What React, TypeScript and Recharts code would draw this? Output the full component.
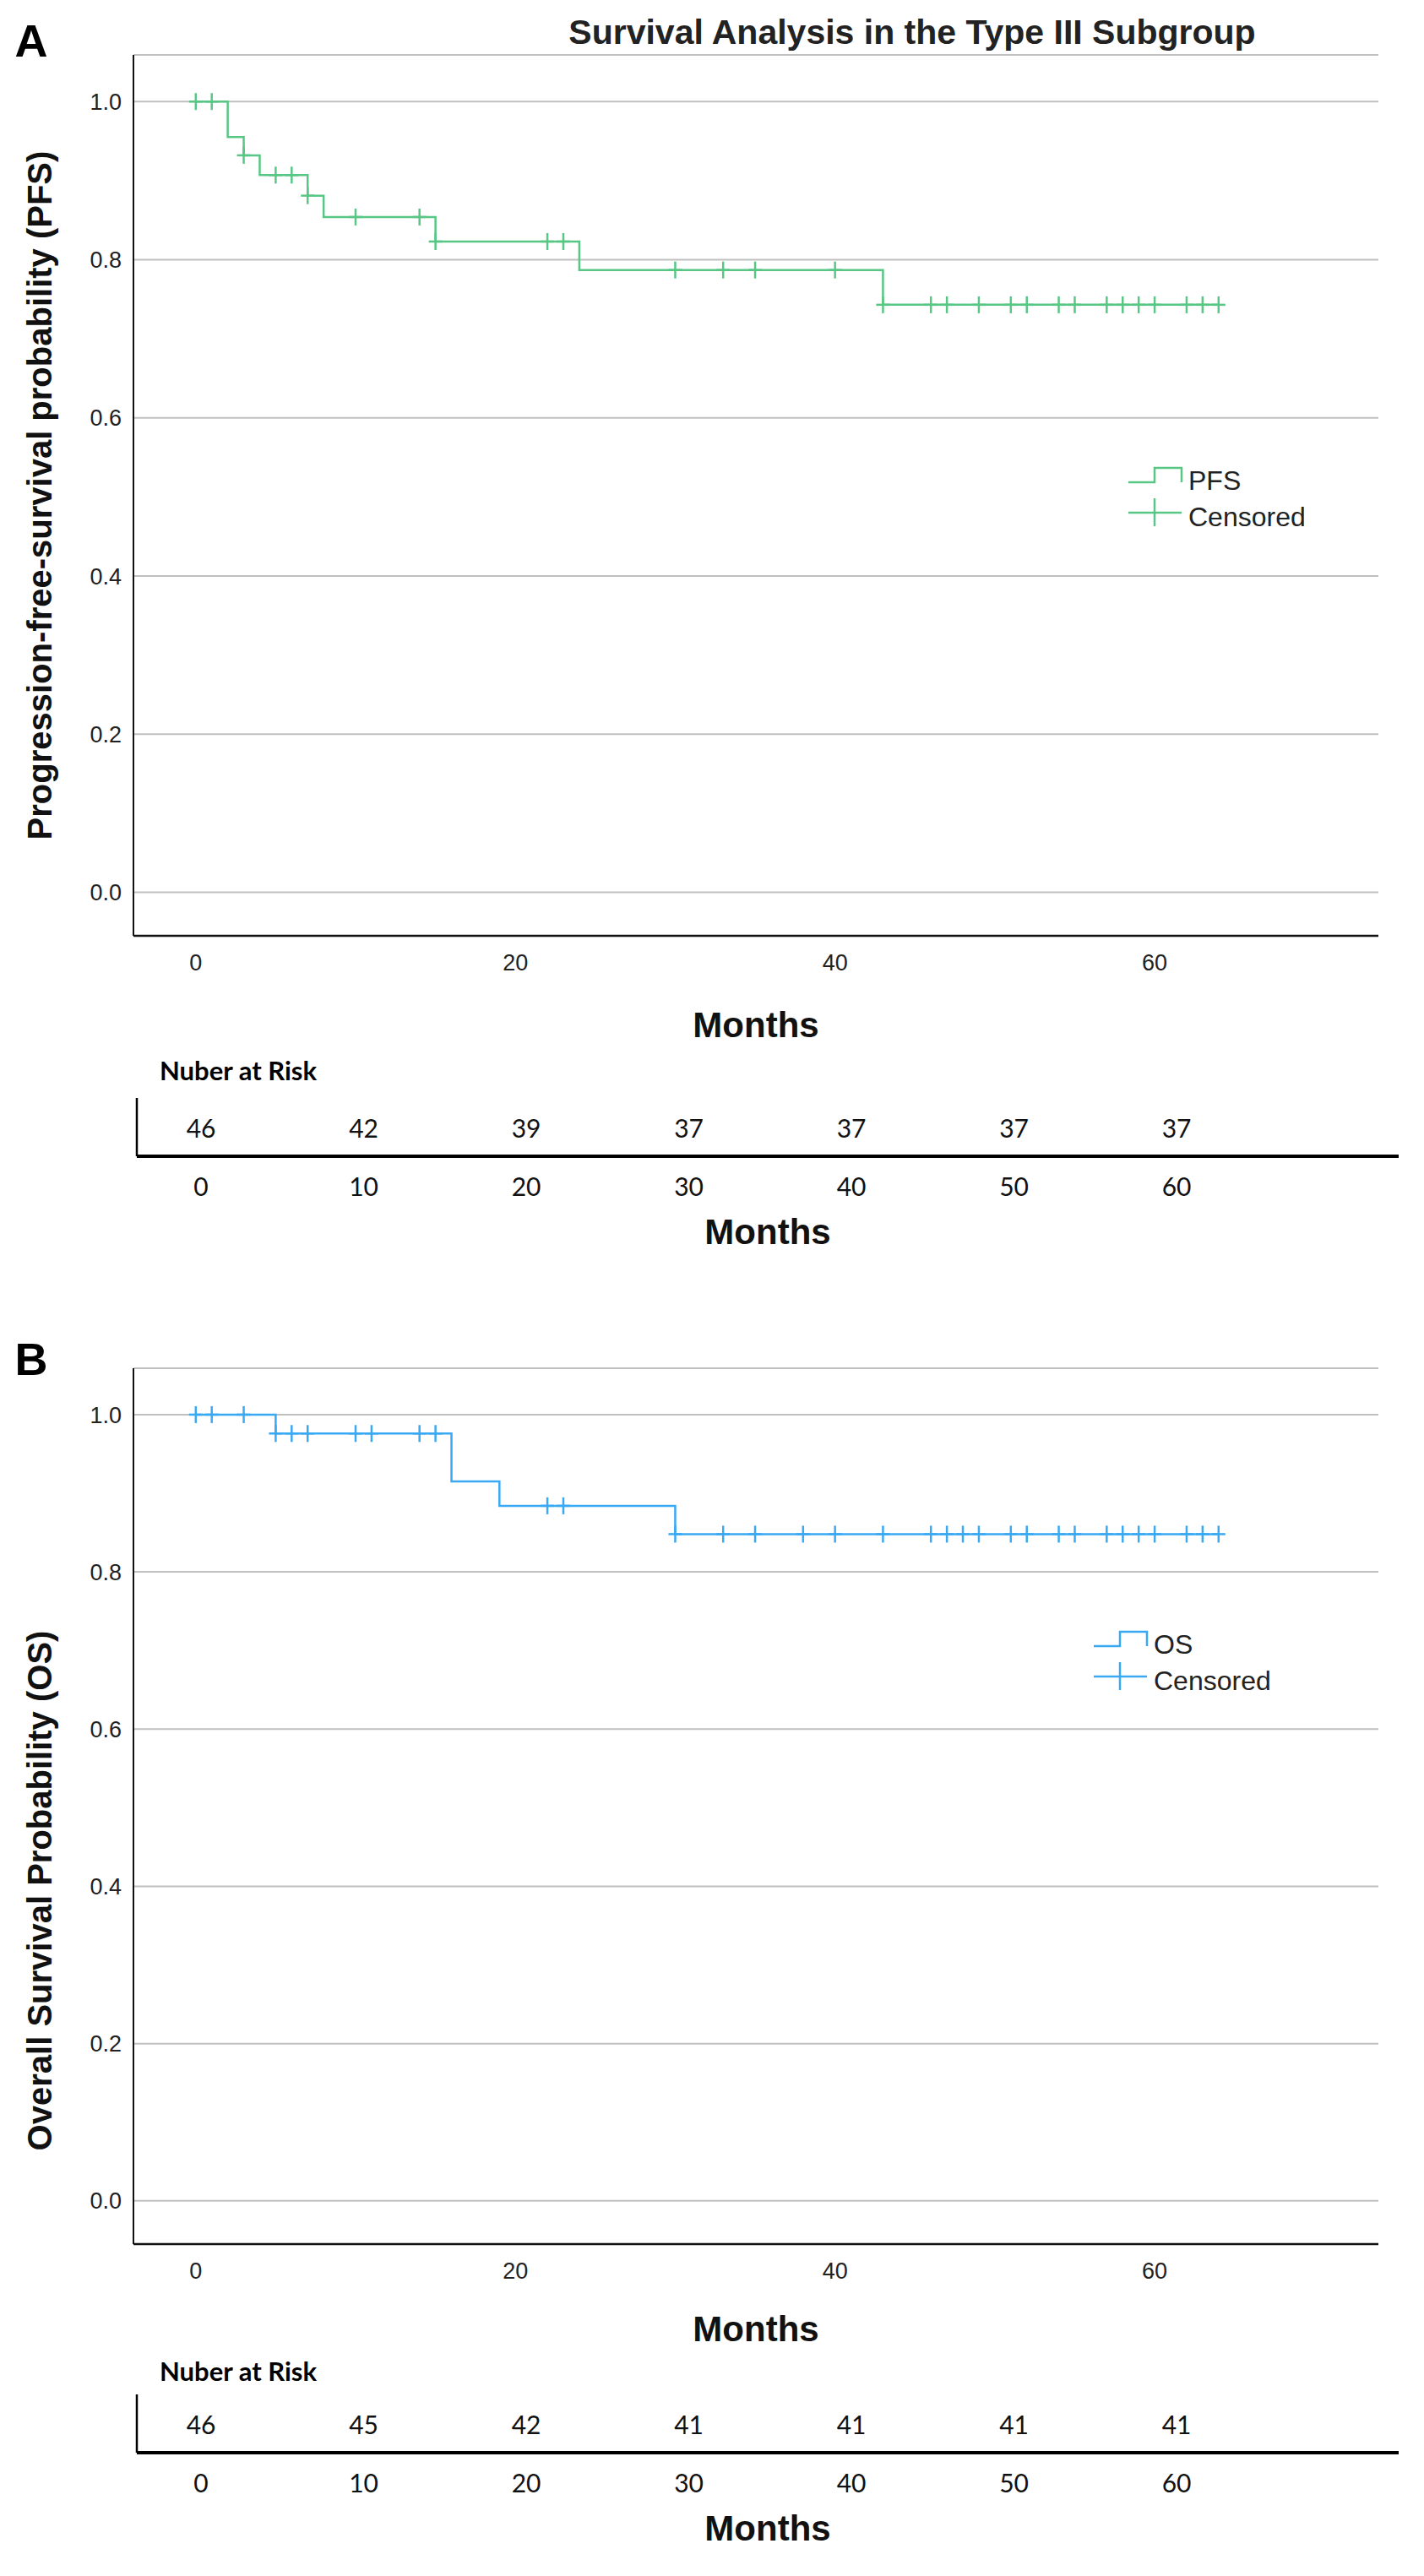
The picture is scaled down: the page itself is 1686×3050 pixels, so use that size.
import React from "react";
import {
  ComposedChart,
  Line,
  Scatter,
  XAxis,
  YAxis,
  CartesianGrid,
  Legend,
  Label,
} from "recharts";

// ---- data ----
const pfsEventMonths = [2, 3, 4, 7, 8, 15, 24, 43];
const pfsLevels = [0.955, 0.932, 0.907, 0.881, 0.854, 0.823, 0.787, 0.743];
const pfsCensoredMonths = [
  0, 1, 3, 5, 6, 7, 10, 14, 15, 22, 23, 30, 33, 35, 40, 43, 46, 47, 49, 51, 52,
  54, 55, 57, 58, 59, 60, 62, 63, 64,
];

const osEventMonths = [5, 16, 19, 30];
const osLevels = [0.976, 0.915, 0.884, 0.848];
const osCensoredMonths = [
  0, 1, 3, 5, 6, 7, 10, 11, 14, 15, 22, 23, 30, 33, 35, 38, 40, 43, 46, 47, 48,
  49, 51, 52, 54, 55, 57, 58, 59, 60, 62, 63, 64,
];

const lastFollowUp = 64;

const plotTicks = [0, 20, 40, 60];
const probTicks = [0, 0.2, 0.4, 0.6, 0.8, 1.0];

const riskMonths = [0, 10, 20, 30, 40, 50, 60];
const pfsAtRisk = [46, 42, 39, 37, 37, 37, 37];
const osAtRisk = [46, 45, 42, 41, 41, 41, 41];

// ---- helpers ----
const GREEN = "#58c785";
const BLUE = "#3aa9f4";
const ARIAL = "'Liberation Sans', Arial, sans-serif";
const CALIBRI = "Lato, 'Liberation Sans', sans-serif";

function stepSeries(events: number[], levels: number[], end: number) {
  const pts = [{ t: 0, s: 1 }];
  events.forEach((t, i) => pts.push({ t, s: levels[i] }));
  pts.push({ t: end, s: levels[levels.length - 1] });
  return pts;
}

function survivalAt(t: number, events: number[], levels: number[]) {
  let s = 1;
  events.forEach((e, i) => {
    if (e <= t) s = levels[i];
  });
  return s;
}

const CensorMark = ({ cx, cy, color }: any) => (
  <g stroke={color} strokeWidth={2.5}>
    <line x1={cx} y1={cy - 10} x2={cx} y2={cy + 10} />
    <line x1={cx - 8} y1={cy} x2={cx + 8} y2={cy} />
  </g>
);

const MonthsTitle = ({ viewBox, dy }: any) => (
  <text
    x={viewBox.x + viewBox.width / 2}
    y={viewBox.y + dy}
    textAnchor="middle"
    fontFamily={ARIAL}
    fontWeight="bold"
    fontSize={42}
    fill="#111"
  >
    Months
  </text>
);

const YTitle = ({ viewBox, text, shift }: any) => {
  const cx = 47;
  const cy = viewBox.y + viewBox.height / 2 + shift;
  return (
    <text
      x={cx}
      y={cy}
      transform={`rotate(-90 ${cx} ${cy})`}
      textAnchor="middle"
      dominantBaseline="central"
      fontFamily={ARIAL}
      fontWeight="bold"
      fontSize={40}
      fill="#111"
    >
      {text}
    </text>
  );
};

const KmLegend = ({ color, name }: any) => (
  <svg width={240} height={90} style={{ display: "block" }}>
    <path d="M6,26 H37 V9 H69 V26" fill="none" stroke={color} strokeWidth={2.5} />
    <text x={77} y={35} fontFamily={ARIAL} fontSize={32} fill="#222">
      {name}
    </text>
    <line x1={6} y1={62} x2={69} y2={62} stroke={color} strokeWidth={2.5} />
    <line x1={37} y1={45} x2={37} y2={78} stroke={color} strokeWidth={2.5} />
    <text x={77} y={78} fontFamily={ARIAL} fontSize={32} fill="#222">
      Censored
    </text>
  </svg>
);

interface KmPanelProps {
  top: number;
  axisHeight: number;
  monthsDy: number;
  events: number[];
  levels: number[];
  censored: number[];
  color: string;
  name: string;
  yTitle: string;
  yTitleShift: number;
  legendLeft: number;
  legendTop: number;
}

const KmPanel = ({
  top,
  axisHeight,
  monthsDy,
  events,
  levels,
  censored,
  color,
  name,
  yTitle,
  yTitleShift,
  legendLeft,
  legendTop,
}: KmPanelProps) => {
  const curve = stepSeries(events, levels, lastFollowUp);
  const marks = censored.map((t) => ({ t, s: survivalAt(t, events, levels) }));
  const tickStyle = { fontFamily: ARIAL, fontSize: 27, fill: "#222" };

  return (
    <div style={{ position: "absolute", left: 0, top }}>
      <ComposedChart
        width={1686}
        height={1250}
        margin={{ top: 65, right: 54, bottom: 0, left: 0 }}
      >
        <CartesianGrid vertical={false} stroke="#c0c0c0" strokeWidth={2} />
        <XAxis
          type="number"
          dataKey="t"
          domain={[-3.9, 74]}
          ticks={plotTicks}
          allowDataOverflow
          height={axisHeight}
          tickLine={false}
          tickMargin={16}
          axisLine={{ stroke: "#111", strokeWidth: 2.5 }}
          tick={tickStyle}
        >
          <Label content={<MonthsTitle dy={monthsDy} />} />
        </XAxis>
        <YAxis
          type="number"
          dataKey="s"
          domain={[-0.055, 1.059]}
          ticks={probTicks}
          allowDataOverflow
          width={158}
          tickLine={false}
          tickMargin={8}
          axisLine={{ stroke: "#111", strokeWidth: 2 }}
          tick={tickStyle}
          tickFormatter={(v: number) => v.toFixed(1)}
        >
          <Label content={<YTitle text={yTitle} shift={yTitleShift} />} />
        </YAxis>
        <Line
          data={curve}
          dataKey="s"
          type="stepAfter"
          stroke={color}
          strokeWidth={2.5}
          dot={false}
          activeDot={false}
          isAnimationActive={false}
        />
        <Scatter
          data={marks}
          dataKey="s"
          isAnimationActive={false}
          shape={(p: any) => <CensorMark cx={p.cx} cy={p.cy} color={color} />}
        />
        <Legend
          layout="vertical"
          align="center"
          verticalAlign="middle"
          wrapperStyle={{ left: legendLeft, top: legendTop, width: 240, height: 90 }}
          content={() => <KmLegend color={color} name={name} />}
        />
      </ComposedChart>
    </div>
  );
};

const RiskCell = ({ cx, cy, payload }: any) => (
  <text
    x={cx}
    y={cy}
    textAnchor="middle"
    dominantBaseline="central"
    fontFamily={CALIBRI}
    fontSize={30}
    fill="#111"
  >
    {payload.n}
  </text>
);

const RiskTable = ({ top, counts }: { top: number; counts: number[] }) => {
  const rows = riskMonths.map((t, i) => ({ t, row: 0.5, n: counts[i] }));
  return (
    <div style={{ position: "absolute", left: 0, top }}>
      <ComposedChart
        width={1686}
        height={260}
        margin={{ top: 70, right: 30, bottom: 0, left: 160 }}
      >
        <XAxis
          type="number"
          dataKey="t"
          domain={[-3.95, 73.66]}
          ticks={riskMonths}
          allowDataOverflow
          height={121}
          tickLine={false}
          tickSize={0}
          tickMargin={26}
          axisLine={{ stroke: "#000", strokeWidth: 4 }}
          tick={{ fontFamily: CALIBRI, fontSize: 30, fill: "#111" }}
        >
          <Label content={<MonthsTitle dy={104} />} />
        </XAxis>
        <YAxis
          type="number"
          dataKey="row"
          domain={[0, 1]}
          width={2}
          tick={false}
          tickLine={false}
          axisLine={{ stroke: "#000", strokeWidth: 2.5 }}
        />
        <Scatter
          data={rows}
          dataKey="row"
          isAnimationActive={false}
          shape={(p: any) => <RiskCell {...p} />}
        />
      </ComposedChart>
    </div>
  );
};

const Overlay = () => (
  <svg
    width={1686}
    height={3050}
    style={{ position: "absolute", left: 0, top: 0, pointerEvents: "none" }}
  >
    <text x={37} y={67} textAnchor="middle" fontFamily={ARIAL} fontWeight="bold" fontSize={54} fill="#000">
      A
    </text>
    <text x={37} y={1628} textAnchor="middle" fontFamily={ARIAL} fontWeight="bold" fontSize={54} fill="#000">
      B
    </text>
    <text x={1080} y={52} textAnchor="middle" fontFamily={ARIAL} fontWeight="bold" fontSize={41} fill="#222">
      Survival Analysis in the Type III Subgroup
    </text>
    <text x={189} y={1279} fontFamily={CALIBRI} fontWeight="bold" fontSize={31} fill="#000">
      Nuber at Risk
    </text>
    <text x={189} y={2819} fontFamily={CALIBRI} fontWeight="bold" fontSize={31} fill="#000">
      Nuber at Risk
    </text>
  </svg>
);

export default function App() {
  return (
    <div
      style={{
        position: "absolute",
        left: 0,
        top: 0,
        width: 1686,
        height: 3050,
        background: "#fff",
        overflow: "hidden",
      }}
    >
      <KmPanel
        top={0}
        axisHeight={142}
        monthsDy={120}
        events={pfsEventMonths}
        levels={pfsLevels}
        censored={pfsCensoredMonths}
        color={GREEN}
        name="PFS"
        yTitle="Progression-free-survival probability (PFS)"
        yTitleShift={0}
        legendLeft={1330}
        legendTop={545}
      />
      <RiskTable top={1230} counts={pfsAtRisk} />
      <KmPanel
        top={1555}
        axisHeight={148}
        monthsDy={115}
        events={osEventMonths}
        levels={osLevels}
        censored={osCensoredMonths}
        color={BLUE}
        name="OS"
        yTitle="Overall Survival Probability (OS)"
        yTitleShift={100}
        legendLeft={1289}
        legendTop={368}
      />
      <RiskTable top={2765} counts={osAtRisk} />
      <Overlay />
    </div>
  );
}
